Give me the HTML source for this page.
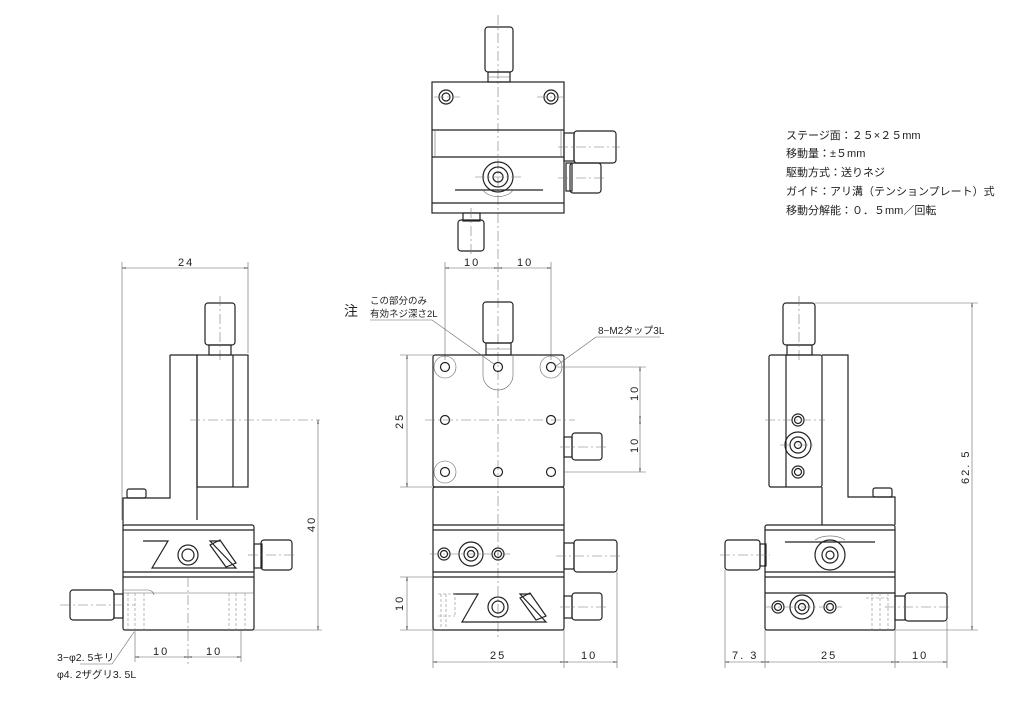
<!DOCTYPE html>
<html><head><meta charset="utf-8"><style>
html,body{margin:0;padding:0;background:#fff;}
svg{display:block;}
text{font-family:"Liberation Sans","Noto Sans CJK JP",sans-serif;fill:#222;}
.k{fill:none;stroke:#222;stroke-width:1.2;}
.t{fill:none;stroke:#666;stroke-width:0.6;}
.c{fill:none;stroke:#777;stroke-width:0.6;stroke-dasharray:10 3 2 3;}
.h{fill:none;stroke:#888;stroke-width:0.6;stroke-dasharray:3 2;}
.d{letter-spacing:2px;}
</style></head><body>
<svg width="1024" height="721" viewBox="0 0 1024 721" xmlns="http://www.w3.org/2000/svg">
<defs>
<marker id="a" viewBox="0 0 10 10" refX="10" refY="5" markerWidth="7" markerHeight="7" orient="auto-start-reverse"><path d="M0,3 L10,5 L0,7" fill="none" stroke="#555" stroke-width="1"/></marker>
</defs>

<!-- ============ TOP VIEW ============ -->
<line class="c" x1="498" y1="15" x2="498" y2="262"/>
<rect class="k" x="485" y="27" width="28" height="45" rx="3"/>
<rect class="k" x="488" y="72" width="22" height="10"/>
<line class="t" x1="488" y1="77" x2="510" y2="77"/>
<rect class="k" x="432" y="82" width="132" height="131"/>
<line class="k" x1="432" y1="130" x2="564" y2="130"/>
<line class="k" x1="432" y1="157" x2="564" y2="157"/>
<line class="t" x1="435" y1="130" x2="435" y2="157"/><line class="t" x1="561" y1="130" x2="561" y2="157"/>
<line class="k" x1="432" y1="203" x2="564" y2="203"/>
<line class="k" x1="455" y1="190" x2="543" y2="190"/>
<path class="t" d="M483,190 A16,10 0 0 0 513,190"/>
<circle class="k" cx="446" cy="97" r="7"/><circle class="k" cx="446" cy="97" r="4"/>
<circle class="k" cx="551" cy="97" r="7"/><circle class="k" cx="551" cy="97" r="4"/>
<line class="c" x1="434" y1="97" x2="460" y2="97"/><line class="c" x1="537" y1="97" x2="563" y2="97"/>
<circle class="k" cx="498" cy="177" r="15"/><circle class="k" cx="498" cy="177" r="10"/><circle class="k" cx="498" cy="177" r="5"/>
<line class="c" x1="475" y1="177" x2="521" y2="177"/>
<rect class="k" x="564" y="133" width="10" height="28"/>
<rect class="k" x="574" y="131" width="42" height="32" rx="3"/>
<line class="c" x1="558" y1="147" x2="620" y2="147"/>
<rect class="k" x="566" y="163" width="6" height="28"/>
<rect class="k" x="570" y="163" width="31" height="30" rx="3"/>
<line class="c" x1="558" y1="178" x2="606" y2="178"/>
<rect class="k" x="463" y="213" width="17" height="8"/>
<rect class="k" x="458" y="220" width="26" height="31" rx="3"/>
<line class="c" x1="471" y1="208" x2="471" y2="255"/>

<!-- Specs -->
<g font-size="11">
<text x="786" y="139">ステージ面：２５×２５mm</text>
<text x="786" y="157">移動量：±５mm</text>
<text x="786" y="176">駆動方式：送りネジ</text>
<text x="786" y="195">ガイド：アリ溝（テンションプレート）式</text>
<text x="786" y="214">移動分解能：０．５mm／回転</text>
</g>

<!-- ============ LEFT SIDE VIEW ============ -->
<line class="t" x1="122" y1="262" x2="122" y2="520"/>
<line class="t" x1="248" y1="262" x2="248" y2="353"/>
<line class="t" x1="122" y1="268" x2="248" y2="268" marker-start="url(#a)" marker-end="url(#a)"/>
<text x="178" y="266" font-size="11" class="d">24</text>
<rect class="k" x="205" y="303" width="30" height="42" rx="3"/>
<rect class="k" x="209" y="345" width="22" height="10"/>
<line class="c" x1="220" y1="296" x2="220" y2="362"/>
<path class="k" d="M170,355 L197,355 L197,520 M170,355 L170,498 L123,498 L123,526"/>
<rect class="k" x="197" y="355" width="51" height="132"/>
<line class="k" x1="233" y1="355" x2="233" y2="487"/>
<line class="c" x1="190" y1="420" x2="320" y2="420"/>
<rect class="k" x="127" y="489" width="19" height="9" rx="2"/>
<rect class="k" x="123" y="525" width="131" height="105" rx="2"/>
<line class="k" x1="123" y1="530" x2="254" y2="530"/>
<line class="k" x1="123" y1="577" x2="254" y2="577"/>
<line class="k" x1="123" y1="572" x2="254" y2="572"/>
<line class="t" x1="123" y1="593" x2="254" y2="593"/>
<path class="k" d="M143,541 L168,541 L152,568 L236,568 L210,541 L220,541"/>
<path class="k" d="M210,545 L220,540 L236,563 L226,567 Z"/>
<circle class="k" cx="188" cy="555" r="10"/><circle class="k" cx="188" cy="555" r="6"/>
<rect class="k" x="254" y="544" width="8" height="24"/>
<rect class="k" x="261" y="540" width="31" height="30" rx="3"/>
<line class="c" x1="248" y1="555" x2="296" y2="555"/>
<rect class="k" x="114" y="594" width="9" height="24"/>
<rect class="k" x="70" y="590" width="44" height="30" rx="3"/>
<line class="c" x1="60" y1="605" x2="135" y2="605"/>
<path class="t" d="M123,590 L148,590 A6,6 0 0 1 154,595"/>
<path class="h" d="M128,593 L128,630 M135,593 L135,630 M144,593 L144,630"/>
<path class="h" d="M229,593 L229,630 M236,593 L236,630 M245,593 L245,630"/>
<line class="c" x1="188" y1="577" x2="188" y2="665"/>
<line class="t" x1="254" y1="630" x2="322" y2="630"/>
<line class="t" x1="318" y1="420" x2="318" y2="630" marker-start="url(#a)" marker-end="url(#a)"/>
<text x="0" y="0" font-size="11" class="d" transform="translate(315,532) rotate(-90)">40</text>
<line class="t" x1="135" y1="630" x2="135" y2="662"/>
<line class="t" x1="241" y1="630" x2="241" y2="662"/>
<line class="t" x1="135" y1="657" x2="188" y2="657" marker-start="url(#a)" marker-end="url(#a)"/>
<line class="t" x1="188" y1="657" x2="241" y2="657" marker-start="url(#a)" marker-end="url(#a)"/>
<text x="153" y="655" font-size="11" class="d">10</text><text x="206" y="655" font-size="11" class="d">10</text>
<path class="t" d="M134,632 L112,664 L80,664"/>
<text x="57" y="661" font-size="10.5">3−φ2. 5キリ</text>
<text x="57" y="678" font-size="10.5">φ4. 2ザグリ3. 5L</text>

<!-- ============ FRONT VIEW ============ -->
<line class="c" x1="498" y1="262" x2="498" y2="640"/>
<line class="t" x1="445" y1="262" x2="445" y2="360"/>
<line class="t" x1="551" y1="262" x2="551" y2="360"/>
<line class="t" x1="445" y1="268" x2="498" y2="268" marker-start="url(#a)" marker-end="url(#a)"/>
<line class="t" x1="498" y1="268" x2="551" y2="268" marker-start="url(#a)" marker-end="url(#a)"/>
<text x="464" y="266" font-size="11" class="d">10</text><text x="517" y="266" font-size="11" class="d">10</text>
<rect class="k" x="483" y="302" width="30" height="41" rx="3"/>
<rect class="k" x="486" y="343" width="25" height="12"/>
<line class="t" x1="486" y1="349" x2="511" y2="349"/>
<rect class="k" x="433" y="355" width="131" height="132" rx="2"/>
<path class="t" d="M483,355 L483,375 A15,15 0 0 0 513,375 L513,355"/>
<circle class="t" cx="445" cy="367" r="11"/><circle class="t" cx="551" cy="367" r="11"/><circle class="t" cx="445" cy="472" r="11"/>
<g class="k">
<circle cx="445" cy="367" r="4.5"/><circle cx="498" cy="367" r="4.5"/><circle cx="551" cy="367" r="4.5"/>
<circle cx="445" cy="420" r="4.5"/><circle cx="551" cy="420" r="4.5"/>
<circle cx="445" cy="472" r="4.5"/><circle cx="498" cy="472" r="4.5"/><circle cx="551" cy="472" r="4.5"/>
</g>
<line class="c" x1="425" y1="420" x2="575" y2="420"/>
<line class="t" x1="400" y1="355" x2="433" y2="355"/><line class="t" x1="400" y1="487" x2="433" y2="487"/>
<line class="t" x1="407" y1="355" x2="407" y2="487" marker-start="url(#a)" marker-end="url(#a)"/>
<text x="0" y="0" font-size="11" class="d" transform="translate(403,429) rotate(-90)">25</text>
<line class="t" x1="556" y1="367" x2="646" y2="367"/><line class="t" x1="564" y1="472" x2="646" y2="472"/>
<line class="t" x1="640" y1="367" x2="640" y2="420" marker-start="url(#a)" marker-end="url(#a)"/>
<line class="t" x1="640" y1="420" x2="640" y2="472" marker-start="url(#a)" marker-end="url(#a)"/>
<text x="0" y="0" font-size="11" class="d" transform="translate(638,401) rotate(-90)">10</text>
<text x="0" y="0" font-size="11" class="d" transform="translate(638,453) rotate(-90)">10</text>
<rect class="k" x="564" y="437" width="8" height="20"/>
<rect class="k" x="572" y="433" width="30" height="27" rx="3"/>
<line class="c" x1="560" y1="447" x2="607" y2="447"/>
<rect class="k" x="433" y="487" width="131" height="143" rx="2"/>
<line class="k" x1="433" y1="525" x2="564" y2="525"/>
<line class="k" x1="433" y1="530" x2="564" y2="530"/>
<line class="k" x1="433" y1="572" x2="564" y2="572"/>
<line class="k" x1="433" y1="577" x2="564" y2="577"/>
<circle class="k" cx="444" cy="554" r="6"/><circle class="k" cx="444" cy="554" r="3.5"/>
<circle class="k" cx="471" cy="554" r="12"/><circle class="k" cx="471" cy="554" r="7"/><circle class="k" cx="471" cy="554" r="3.5"/>
<circle class="k" cx="498" cy="554" r="6"/><circle class="k" cx="498" cy="554" r="3.5"/>
<line class="c" x1="430" y1="554" x2="510" y2="554"/>
<rect class="k" x="564" y="543" width="10" height="26"/>
<rect class="k" x="574" y="540" width="43" height="32" rx="3"/>
<line class="c" x1="556" y1="556" x2="620" y2="556"/>
<path class="k" d="M453,594 L478,594 L462,622 L546,622 L520,594 L530,594"/>
<path class="k" d="M520,598 L530,593 L546,616 L536,620 Z"/>
<circle class="k" cx="498" cy="607" r="10"/><circle class="k" cx="498" cy="607" r="6"/>
<path class="h" d="M438,594 L455,594 L455,616 M438,616 L455,616 M441,594 L441,630 M446,594 L446,630"/>
<rect class="k" x="564" y="596" width="8" height="22"/>
<rect class="k" x="572" y="593" width="30" height="27" rx="3"/>
<line class="c" x1="560" y1="607" x2="607" y2="607"/>
<line class="t" x1="400" y1="577" x2="433" y2="577"/><line class="t" x1="400" y1="630" x2="433" y2="630"/>
<line class="t" x1="407" y1="577" x2="407" y2="630" marker-start="url(#a)" marker-end="url(#a)"/>
<text x="0" y="0" font-size="11" class="d" transform="translate(403,611) rotate(-90)">10</text>
<line class="t" x1="433" y1="630" x2="433" y2="668"/><line class="t" x1="564" y1="630" x2="564" y2="668"/><line class="t" x1="617" y1="572" x2="617" y2="668"/>
<line class="t" x1="433" y1="662" x2="564" y2="662" marker-start="url(#a)" marker-end="url(#a)"/>
<line class="t" x1="564" y1="662" x2="617" y2="662" marker-start="url(#a)" marker-end="url(#a)"/>
<text x="490" y="659" font-size="11" class="d">25</text><text x="581" y="659" font-size="11" class="d">10</text>
<!-- annotations -->
<text x="344" y="316" font-size="14">注</text>
<text x="370" y="304" font-size="9.5">この部分のみ</text>
<text x="370" y="317" font-size="9.5">有効ネジ深さ2L</text>
<path class="t" d="M370,320 L432,320 L494,364"/>
<text x="598" y="334" font-size="10">8−M2タップ3L</text>
<path class="t" d="M660,337 L596,337 L556,366"/>

<!-- ============ RIGHT SIDE VIEW ============ -->
<rect class="k" x="783" y="303" width="32" height="42" rx="3"/>
<rect class="k" x="787" y="345" width="25" height="10"/>
<line class="c" x1="799" y1="296" x2="799" y2="362"/>
<line class="t" x1="815" y1="303" x2="978" y2="303"/>
<rect class="k" x="769" y="355" width="53" height="132" rx="2"/>
<line class="k" x1="786" y1="355" x2="786" y2="487"/>
<path class="k" d="M822,355 L848,355 L848,497 L895,497 L895,525 M822,487 L822,525"/>
<rect class="k" x="873" y="488" width="19" height="9" rx="2"/>
<circle class="k" cx="798" cy="420" r="6"/><circle class="k" cx="798" cy="420" r="3.5"/>
<circle class="k" cx="798" cy="445" r="13"/><circle class="k" cx="798" cy="445" r="8"/><circle class="k" cx="798" cy="445" r="3.5"/>
<circle class="k" cx="798" cy="472" r="6"/><circle class="k" cx="798" cy="472" r="3.5"/>
<line class="c" x1="765" y1="420" x2="825" y2="420"/>
<line class="c" x1="780" y1="445" x2="816" y2="445"/>
<rect class="k" x="765" y="525" width="130" height="105" rx="2"/>
<line class="k" x1="765" y1="530" x2="895" y2="530"/>
<line class="k" x1="765" y1="572" x2="895" y2="572"/>
<line class="k" x1="765" y1="577" x2="895" y2="577"/>
<line class="k" x1="765" y1="593" x2="895" y2="593"/>
<line class="k" x1="785" y1="542" x2="875" y2="542"/>
<path class="t" d="M815,540 A20,12 0 0 1 845,540"/>
<circle class="k" cx="830" cy="555" r="15"/><circle class="k" cx="830" cy="555" r="8"/><circle class="k" cx="830" cy="555" r="4"/>
<rect class="k" x="760" y="544" width="6" height="22"/>
<rect class="k" x="725" y="540" width="35" height="30" rx="3"/>
<line class="c" x1="720" y1="555" x2="770" y2="555"/>
<circle class="k" cx="778" cy="607" r="6"/><circle class="k" cx="778" cy="607" r="3.5"/>
<circle class="k" cx="802" cy="607" r="12"/><circle class="k" cx="802" cy="607" r="7"/><circle class="k" cx="802" cy="607" r="3.5"/>
<circle class="k" cx="830" cy="607" r="6"/><circle class="k" cx="830" cy="607" r="3.5"/>
<line class="c" x1="765" y1="607" x2="842" y2="607"/>
<path class="h" d="M872,593 L872,630 M880,593 L880,630 M888,593 L888,630 M866,598 L888,598"/>
<rect class="k" x="895" y="596" width="10" height="24"/>
<rect class="k" x="905" y="593" width="42" height="28" rx="3"/>
<line class="c" x1="885" y1="607" x2="952" y2="607"/>
<line class="t" x1="895" y1="630" x2="978" y2="630"/>
<line class="t" x1="972" y1="303" x2="972" y2="630" marker-start="url(#a)" marker-end="url(#a)"/>
<text x="0" y="0" font-size="11" class="d" transform="translate(969,484) rotate(-90)">62. 5</text>
<line class="t" x1="725" y1="570" x2="725" y2="668"/><line class="t" x1="765" y1="630" x2="765" y2="668"/>
<line class="t" x1="895" y1="630" x2="895" y2="668"/><line class="t" x1="947" y1="621" x2="947" y2="668"/>
<line class="t" x1="725" y1="662" x2="765" y2="662" marker-start="url(#a)" marker-end="url(#a)"/>
<line class="t" x1="765" y1="662" x2="895" y2="662" marker-start="url(#a)" marker-end="url(#a)"/>
<line class="t" x1="895" y1="662" x2="947" y2="662" marker-start="url(#a)" marker-end="url(#a)"/>
<text x="732" y="659" font-size="11" class="d">7. 3</text>
<text x="821" y="659" font-size="11" class="d">25</text>
<text x="912" y="659" font-size="11" class="d">10</text>
</svg>
</body></html>
